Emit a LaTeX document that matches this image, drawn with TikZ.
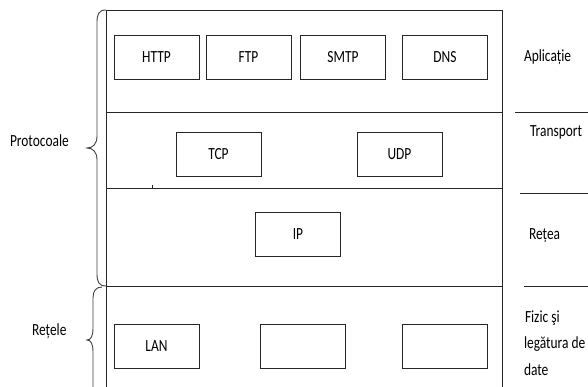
\documentclass[tikz,border=0pt]{standalone}
\usepackage{fontspec}
\setmainfont{Carlito}[FakeStretch=0.79]
\begin{document}
\begin{tikzpicture}[x=1pt,y=-1pt,
  ln/.style={draw=black!85,line width=0.9pt},
  layerbox/.style={ln,rectangle,minimum width=85pt,minimum height=44pt,inner sep=0pt,outer sep=0pt},
  lbl/.style={inner sep=0pt,outer sep=0pt,anchor=base west},
  every node/.style={font=\fontsize{17}{27}\selectfont}]
\useasboundingbox (0,0) rectangle (588,387);
% frame
\draw[ln] (106,387) -- (106,10) -- (502,10) -- (502,387);
\draw[ln] (106,112) -- (502,112);
\draw[ln] (106,188) -- (502,188);
\draw[ln] (106,286) -- (502,286);
\draw[black!85,line width=0.6pt] (152,185) -- (152,188);
% boxes
\node[layerbox] (http) at (156.5,57) {HTTP};
\node[layerbox] (ftp) at (248.5,57) {FTP};
\node[layerbox] (smtp) at (343,57) {SMTP};
\node[layerbox] (dns) at (445,57) {DNS};
\node[layerbox] (tcp) at (218.5,154) {TCP};
\node[layerbox] (udp) at (399.5,154) {UDP};
\node[layerbox] (ip) at (298,234.5) {IP};
\node[layerbox] (lan) at (156.5,346) {LAN};
\node[layerbox] (b2) at (303,346) {};
\node[layerbox] (b3) at (444.5,346) {};
% right labels
\node[lbl] (apl) at (524,62) {Aplicație};
\draw[ln] (515,112) -- (588,112);
\node[lbl] (tr) at (530,137) {Transport};
\draw[ln] (520,193) -- (588,193);
\node[lbl] (re) at (529,239) {Rețea};
\draw[ln] (524,286) -- (588,286);
\node[lbl] (f1) at (525,322) {Fizic şi};
\node[lbl] (f2) at (524,348) {legătura de};
\node[lbl] (f3) at (524,375) {date};
% braces
\draw[black!75,line width=0.9pt] (106,10) .. controls (99,10) and (97,14) .. (97,22) -- (97,136)
  .. controls (97,144) and (93,148) .. (87,148) .. controls (93,148) and (97,152) .. (97,160)
  -- (97,274) .. controls (97,282) and (99,286) .. (106,286);
\node[lbl] (prot) at (10,147) {Protocoale};
\draw[black!75,line width=0.9pt] (102,287) .. controls (96,287) and (93,291) .. (93,298) -- (93,328)
  .. controls (93,336) and (91,340) .. (87,340) .. controls (91,340) and (93,344) .. (93,352)
  -- (93,390);
\node[lbl] (ret) at (32,335) {Rețele};
\end{tikzpicture}
\end{document}
